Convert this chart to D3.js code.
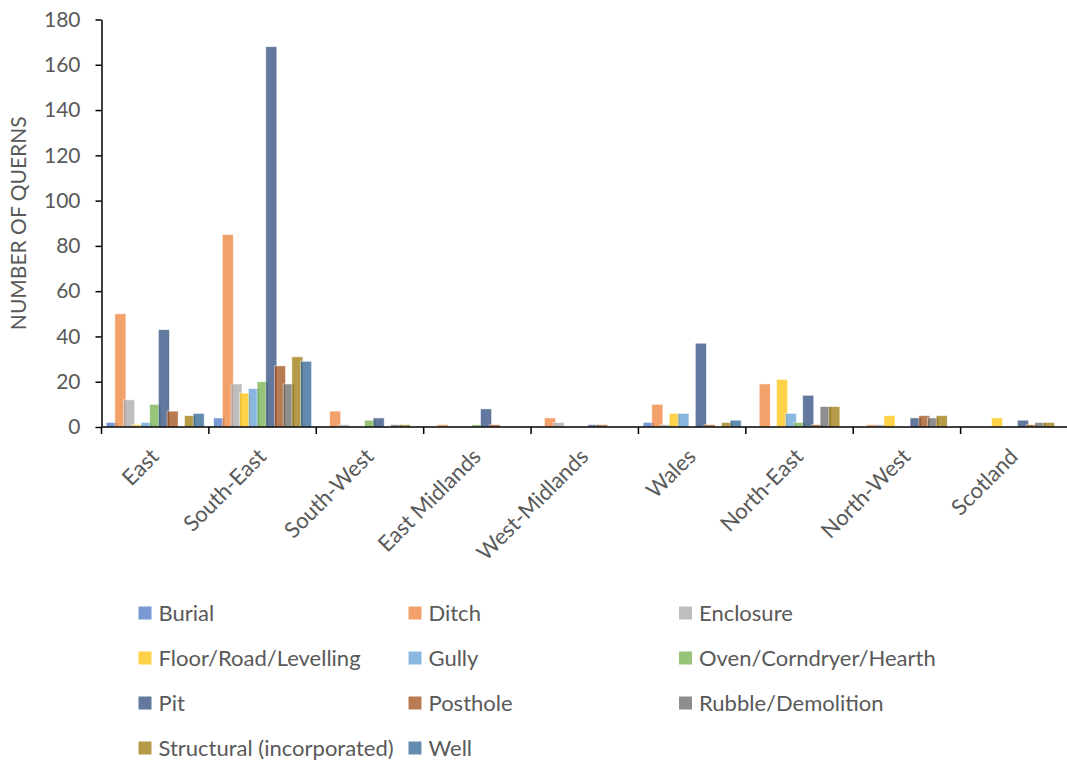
<!DOCTYPE html>
<html>
<head>
<meta charset="utf-8">
<script src="https://cdn.jsdelivr.net/npm/d3@7/dist/d3.min.js"></script>
<style>
  html, body { margin: 0; padding: 0; background: #fff; }
  svg { display: block; }
  text { font-family: Lato, "Open Sans", sans-serif; fill: #595959; }
</style>
</head>
<body>
<svg id="chart" width="1067" height="760"></svg>
<script>
// Regions along the x axis
const regions = ["East", "South-East", "South-West", "East Midlands", "West-Midlands",
                 "Wales", "North-East", "North-West", "Scotland"];

// Feature types (one bar series each)
const featureTypes = ["Burial", "Ditch", "Enclosure", "Floor/Road/Levelling", "Gully",
                      "Oven/Corndryer/Hearth", "Pit", "Posthole", "Rubble/Demolition",
                      "Structural (incorporated)", "Well"];

// Quern counts per feature type, in region order
const burial     = [2, 4, 0, 0, 0, 2, 0, 0, 0];
const ditch      = [50, 85, 7, 1, 4, 10, 19, 1, 0];
const enclosure  = [12, 19, 1, 0, 2, 1, 0, 1, 0];
const floorRoad  = [1, 15, 0, 0, 0, 6, 21, 5, 4];
const gully      = [2, 17, 0, 0, 0, 6, 6, 0, 0];
const oven       = [10, 20, 3, 1, 0, 0, 2, 0, 0];
const pit        = [43, 168, 4, 8, 1, 37, 14, 4, 3];
const posthole   = [7, 27, 0, 1, 1, 1, 1, 5, 1];
const rubble     = [0, 19, 1, 0, 0, 0, 9, 4, 2];
const structural = [5, 31, 1, 0, 0, 2, 9, 5, 2];
const well       = [6, 29, 0, 0, 0, 3, 0, 0, 0];

const seriesValues = [burial, ditch, enclosure, floorRoad, gully, oven, pit,
                      posthole, rubble, structural, well];

// Office palette; bars are drawn semi-transparent
const colors = ["#4472C4", "#ED7D31", "#A5A5A5", "#FFC000", "#5B9BD5", "#70AD47",
                "#264478", "#9E480E", "#636363", "#997300", "#255E91"];

const yTicks = [0, 20, 40, 60, 80, 100, 120, 140, 160, 180];

const svg = d3.select("#chart");

const plot = { left: 101.5, right: 1068, top: 19.5, bottom: 427 };

const x = d3.scaleBand().domain(regions).range([plot.left, plot.right]).paddingInner(0).paddingOuter(0);
const y = d3.scaleLinear().domain([0, 180]).range([plot.bottom, plot.top]);

// Series positions inside each region: overlapping bars
const overlap = 0.21;
const groupSpan = 98;
const barW = groupSpan / (featureTypes.length - 1 + 1 / (1 - overlap)) / (1 - overlap);
const stepW = barW * (1 - overlap);
const inner = d3.scaleBand().domain(featureTypes)
  .range([(x.bandwidth() - groupSpan) / 2, (x.bandwidth() - groupSpan) / 2 + stepW * featureTypes.length])
  .paddingInner(0).paddingOuter(0);

// Bars
const barsG = svg.append("g");
featureTypes.forEach((ft, si) => {
  barsG.append("g")
    .selectAll("rect")
    .data(seriesValues[si].map((v, ri) => ({ region: regions[ri], value: v })))
    .join("rect")
    .filter(d => d.value > 0)
    .attr("x", d => x(d.region) + inner(ft))
    .attr("y", d => y(d.value))
    .attr("width", barW)
    .attr("height", d => y(0) - y(d.value))
    .attr("fill", colors[si])
    .attr("fill-opacity", 0.72)
    .attr("stroke", "#fff")
    .attr("stroke-opacity", 0.6)
    .attr("stroke-width", 0.8);
});

// Y axis
const yAxis = svg.append("g")
  .attr("transform", `translate(${plot.left},0)`)
  .call(d3.axisLeft(y).tickValues(yTicks).tickSize(6).tickPadding(15).tickSizeOuter(0));
yAxis.select(".domain").attr("stroke", "#000").attr("stroke-width", 1.5);
yAxis.selectAll(".tick line").attr("stroke", "#000").attr("stroke-width", 1.5);
yAxis.selectAll(".tick text")
  .attr("font-family", "Lato, sans-serif")
  .attr("font-size", 21)
  .attr("fill", "#595959");

// X axis: labels rotated, tick marks on region boundaries
const xAxis = svg.append("g")
  .attr("transform", `translate(0,${plot.bottom})`)
  .call(d3.axisBottom(x).tickSize(0).tickSizeOuter(0).tickPadding(0));
xAxis.select(".domain").attr("stroke", "#000").attr("stroke-width", 1.5)
  .attr("d", `M${plot.left},0H${plot.right}`);
xAxis.selectAll(".tick text")
  .attr("font-family", "Lato, sans-serif")
  .attr("font-size", 22)
  .attr("fill", "#595959")
  .attr("text-anchor", "end")
  .attr("dy", 0)
  .attr("y", 0)
  .attr("transform", "translate(5,31) rotate(-45)");

const boundaries = regions.map(r => x(r)).concat([x(regions[regions.length - 1]) + x.bandwidth()]);
xAxis.append("g").selectAll("line")
  .data(boundaries)
  .join("line")
  .attr("x1", d => d).attr("x2", d => d)
  .attr("y1", 0).attr("y2", 7)
  .attr("stroke", "#000").attr("stroke-width", 1.5);

// Y axis title
svg.append("text")
  .attr("transform", `translate(26,${(plot.top + plot.bottom) / 2}) rotate(-90)`)
  .attr("text-anchor", "middle")
  .attr("font-size", 21)
  .text("NUMBER OF QUERNS");

// Legend: three columns
const legendCols = [138.5, 408.5, 679];
const legendRows = [613, 658, 703, 748];
const legend = svg.append("g")
  .selectAll("g")
  .data(featureTypes)
  .join("g")
  .attr("transform", (d, i) => `translate(${legendCols[i % 3]},${legendRows[Math.floor(i / 3)]})`);
legend.append("rect")
  .attr("x", 0).attr("y", -6.5)
  .attr("width", 13).attr("height", 13)
  .attr("fill", (d, i) => colors[i])
  .attr("fill-opacity", 0.72);
legend.append("text")
  .attr("x", 20)
  .attr("dy", "0.36em")
  .attr("font-size", 22)
  .text(d => d);
</script>
</body>
</html>
